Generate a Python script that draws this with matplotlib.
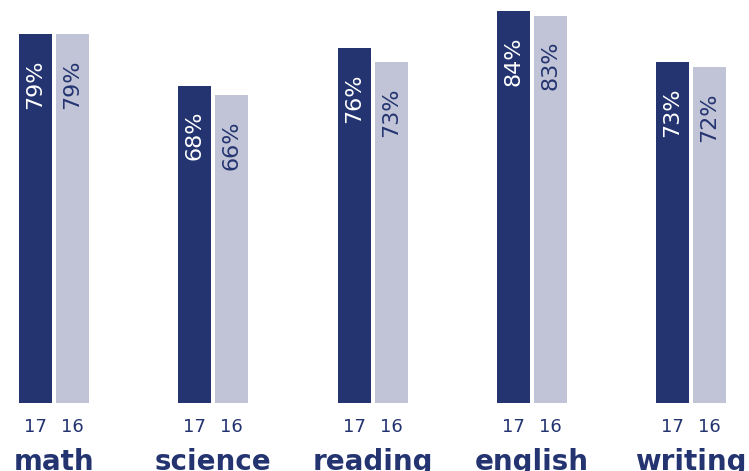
import matplotlib
matplotlib.use("Agg")
from matplotlib import pyplot as plt
import numpy as np

subjects = ["math", "science", "reading", "english", "writing"]
scores_17 = [79, 68, 76, 84, 73]
scores_16 = [79, 66, 73, 83, 72]
years = ["17", "16"]

navy = "#233470"
lavender = "#c1c3d6"

W, H = 749, 471
fig = plt.figure(figsize=(W / 100, H / 100), dpi=100)
# axes: full width, bottom of bars at y=403px
ax = fig.add_axes([0, (H - 403) / H, 1, 403 / H])

unit = 159.25            # pixels per category
bw = 33 / unit           # bar width
off = 18.5 / unit        # half of (bar + gap)
x = np.arange(len(subjects))

ax.bar(x - off, scores_17, width=bw, color=navy)
ax.bar(x + off, scores_16, width=bw, color=lavender)

ax.set_xlim(-54 / unit, (W - 54) / unit)
ax.set_ylim(0, 403 / 4.665)
ax.axis("off")

for i in range(len(subjects)):
    for xx, v, c in [(x[i] - off, scores_17[i], "white"), (x[i] + off, scores_16[i], navy)]:
        ax.annotate(f"{v}%", (xx, v), xytext=(0, -25), textcoords="offset pixels",
                    rotation=90, ha="center", va="top", color=c, fontsize=16)
    for xx, yr in zip([x[i] - off, x[i] + off], years):
        ax.annotate(yr, (xx, 0), xytext=(0, -29), textcoords="offset pixels",
                    ha="center", va="baseline", color=navy, fontsize=13,
                    annotation_clip=False)
    ax.annotate(subjects[i], (x[i], 0), xytext=(0, -67), textcoords="offset pixels",
                ha="center", va="baseline", color=navy, fontsize=20, fontweight="bold",
                annotation_clip=False)

fig.savefig("out.png", dpi=100)
